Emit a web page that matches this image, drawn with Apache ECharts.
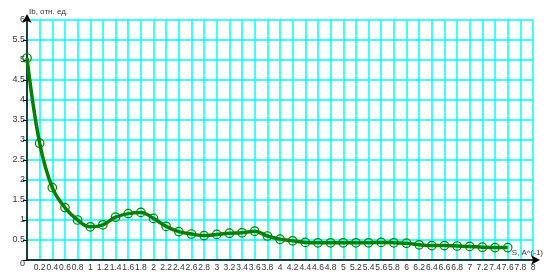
<!DOCTYPE html>
<html><head><meta charset="utf-8">
<script src="https://cdn.jsdelivr.net/npm/echarts@6/dist/echarts.min.js"></script>
<style>html,body{margin:0;padding:0;background:#fff}#c{width:559px;height:279px}</style>
</head><body><div id="c"></div>
<script>
const sValues = [0,0.2,0.4,0.6,0.8,1.0,1.2,1.4,1.6,1.8,2.0,2.2,2.4,2.6,2.8,3.0,3.2,3.4,3.6,3.8,4.0,4.2,4.4,4.6,4.8,5.0,5.2,5.4,5.6,5.8,6.0,6.2,6.4,6.6,6.8,7.0,7.2,7.4,7.6];
const ibValues = [5.05,2.92,1.81,1.31,1.0,0.83,0.88,1.07,1.16,1.19,1.04,0.84,0.71,0.65,0.61,0.64,0.67,0.68,0.72,0.6,0.52,0.48,0.44,0.43,0.43,0.43,0.43,0.43,0.44,0.43,0.42,0.38,0.36,0.36,0.35,0.34,0.32,0.31,0.31];
const xName = 'S, A^(-1)';
const yName = 'Ib, отн. ед.';

const points = sValues.map((s, i) => [s, ibValues[i]]);
const fmt = v => String(Number(v.toFixed(1)));
const font = 'Liberation Sans, Arial, sans-serif';
const chart = echarts.init(document.getElementById('c'), null, {renderer: 'canvas'});
chart.setOption({
  animation: false,
  backgroundColor: '#ffffff',
  grid: {left: 27, right: 26, top: 20, bottom: 19, containLabel: false, outerBoundsMode: 'none'},
  xAxis: {
    type: 'value', min: 0, max: 8, interval: 0.2,
    name: xName, nameLocation: 'end', nameGap: 10,
    nameTextStyle: {fontFamily: font, fontSize: 8, color: '#333', align: 'right', verticalAlign: 'bottom', padding: [0,0,3,0]},
    axisLine: {show: true, onZero: false, lineStyle: {color: '#000', width: 1.5}, symbol: ['none','arrow'], symbolSize: [7,9], symbolOffset: [0,7]},
    axisTick: {show: false},
    axisLabel: {fontFamily: font, fontSize: 8.5, color: '#333', margin: 3, formatter: v => v === 0 ? '' : fmt(v), showMinLabel: true, showMaxLabel: true, hideOverlap: false},
    splitLine: {show: true, lineStyle: {color: '#00ffff', width: 1.5}}
  },
  yAxis: {
    type: 'value', min: 0, max: 6, interval: 0.5,
    name: yName, nameLocation: 'end', nameGap: 6,
    nameTextStyle: {fontFamily: font, fontSize: 8, color: '#333', align: 'left', verticalAlign: 'middle', padding: [0,0,0,2]},
    axisLine: {show: true, onZero: false, lineStyle: {color: '#000', width: 1.5}, symbol: ['none','arrow'], symbolSize: [7,9], symbolOffset: [0,6]},
    axisTick: {show: true, length: 4, lineStyle: {color: '#000'}},
    axisLabel: {fontFamily: font, fontSize: 9, color: '#333', margin: 2,
      formatter: v => v === 0 ? '{z|0}' : fmt(v),
      rich: {z: {fontFamily: font, fontSize: 9, color: '#333', padding: [8,0,0,0]}}},
    splitLine: {show: true, lineStyle: {color: '#00ffff', width: 1.5}}
  },
  series: [{
    type: 'line', data: points, smooth: 0.4,
    symbol: 'circle', symbolSize: 8.5, showAllSymbol: true,
    lineStyle: {color: '#008000', width: 3.5},
    itemStyle: {color: 'rgba(0,0,0,0)', borderColor: '#008000', borderWidth: 1.2},
    z: 3
  }]
});
</script></body></html>
